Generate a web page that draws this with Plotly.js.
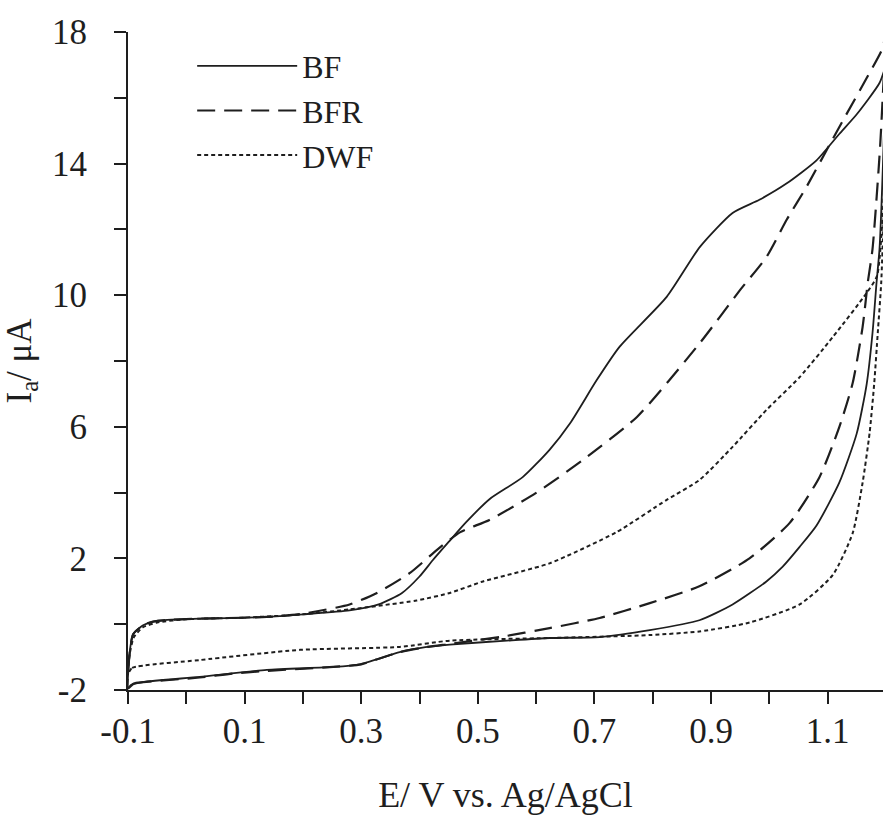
<!DOCTYPE html>
<html>
<head>
<meta charset="utf-8">
<script src="https://cdn.plot.ly/plotly-3.0.1.min.js"></script>
<style>html,body{margin:0;padding:0;background:#fff;}#chart{width:883px;height:817px;}</style>
</head>
<body>
<div id="chart"></div>
<script>
// Potential (V vs Ag/AgCl) and current (µA), each loop: forward (lower) branch then reverse (upper) branch
const bfE = [-0.1,-0.095,-0.074,0.023,0.138,0.252,0.298,0.33,0.366,0.41,0.452,0.55,0.623,0.709,0.795,0.88,0.937,0.995,1.023,1.052,1.081,1.12,1.15,1.167,1.177,1.184,1.189,1.195,1.2,
             1.2,1.189,1.15,1.12,1.081,1.03,0.983,0.937,0.881,0.824,0.743,0.704,0.658,0.623,0.577,0.52,0.48,0.45,0.423,0.4,0.37,0.33,0.28,0.2,0.138,0.05,-0.033,-0.057,-0.074,-0.091,-0.096,-0.1];
const bfI = [-1.95,-1.85,-1.76,-1.6,-1.39,-1.3,-1.22,-1.05,-0.85,-0.7,-0.62,-0.5,-0.42,-0.39,-0.18,0.12,0.6,1.3,1.75,2.35,3.0,4.3,5.8,7.3,8.85,10.4,11.4,14.0,17.0,
             17.0,16.45,15.5,14.9,14.1,13.4,12.9,12.5,11.47,9.95,8.43,7.42,6.1,5.3,4.47,3.8,3.1,2.5,1.95,1.45,0.95,0.6,0.42,0.3,0.22,0.18,0.13,0.08,-0.03,-0.3,-0.7,-1.95];

const bfrE = [-0.1,-0.09,-0.074,0.023,0.08,0.138,0.252,0.3,0.33,0.366,0.41,0.452,0.538,0.623,0.709,0.795,0.88,0.966,1.035,1.086,1.12,1.143,1.16,1.169,1.177,1.19,1.2,
              1.2,1.194,1.167,1.126,1.098,1.064,1.03,0.995,0.95,0.881,0.773,0.68,0.6,0.52,0.47,0.43,0.383,0.327,0.28,0.2,0.138,0.05,-0.033,-0.057,-0.074,-0.091,-0.096,-0.1];
const bfrI = [-1.95,-1.8,-1.76,-1.62,-1.5,-1.42,-1.3,-1.22,-1.05,-0.85,-0.7,-0.6,-0.39,-0.12,0.19,0.64,1.15,2.0,3.08,4.47,5.99,7.33,9.03,10.4,11.4,14.5,18.0,
              18.0,17.5,16.6,15.3,14.4,13.3,12.3,11.16,10.16,8.55,6.3,4.99,3.99,3.17,2.8,2.26,1.55,0.95,0.6,0.32,0.22,0.18,0.13,0.08,-0.03,-0.3,-0.7,-1.95];

const dwfE = [-0.1,-0.093,0.023,0.195,0.366,0.452,0.623,0.795,0.88,0.966,1.052,1.109,1.143,1.16,1.172,1.18,1.186,1.192,1.2,
              1.2,1.185,1.167,1.109,1.052,0.995,0.937,0.88,0.824,0.738,0.623,0.509,0.452,0.395,0.28,0.2,0.1,0,-0.05,-0.075,-0.09,-0.097,-0.1];
const dwfI = [-1.5,-1.33,-1.09,-0.78,-0.69,-0.5,-0.42,-0.33,-0.22,0.05,0.6,1.5,2.77,4.3,5.81,7.33,8.85,10.4,14.5,
              14.5,10.6,10.07,8.73,7.51,6.51,5.39,4.38,3.78,2.8,1.85,1.3,0.95,0.72,0.45,0.3,0.2,0.15,0.05,-0.1,-0.4,-0.9,-1.5];

const seriesNames = ['BF','BFR','DWF'];
const xTickVals = [-0.1,0.1,0.3,0.5,0.7,0.9,1.1];
const xTickText = ['-0.1','0.1','0.3','0.5','0.7','0.9','1.1'];
const xMinorVals = [0,0.2,0.4,0.6,0.8,1.0];
const yTickVals = [-2,2,6,10,14,18];
const yTickText = ['-2','2','6','10','14','18'];
const yMinorVals = [0,4,8,12,16];

const ink = '#1e1e1e';
const serif = 'Liberation Serif, Times New Roman, serif';

const traces = [
  {x: bfE, y: bfI, name: seriesNames[0], mode: 'lines', line: {color: ink, width: 1.8, dash: 'solid', shape: 'spline', smoothing: 0.6}},
  {x: bfrE, y: bfrI, name: seriesNames[1], mode: 'lines', line: {color: ink, width: 2.2, dash: '18px,9px', shape: 'spline', smoothing: 0.6}},
  {x: dwfE, y: dwfI, name: seriesNames[2], mode: 'lines', line: {color: ink, width: 2, dash: '4px,3px', shape: 'spline', smoothing: 0.6}}
];

const layout = {
  width: 883, height: 817,
  margin: {l: 128, r: 0, t: 32, b: 127},
  paper_bgcolor: '#fff', plot_bgcolor: '#fff',
  font: {family: serif, size: 35, color: ink},
  showlegend: true,
  legend: {x: 0.085, y: 0.99, xanchor: 'left', yanchor: 'top', bgcolor: 'rgba(0,0,0,0)',
           font: {family: serif, size: 32, color: ink}, itemwidth: 100, tracegroupgap: 0},
  xaxis: {
    range: [-0.1, 1.195], showgrid: false, zeroline: false,
    showline: true, linecolor: ink, linewidth: 2,
    ticks: 'outside', ticklen: 12, tickwidth: 2, tickcolor: ink,
    tickmode: 'array', tickvals: xTickVals, ticktext: xTickText, ticklabelstandoff: -3,
    minor: {tickmode: 'array', tickvals: xMinorVals, ticks: 'outside', ticklen: 12, tickwidth: 2, tickcolor: ink, showgrid: false},
    tickfont: {family: serif, size: 35, color: ink},
    title: {text: 'E/ V vs. Ag/AgCl', font: {family: serif, size: 36, color: ink}, standoff: 32}
  },
  yaxis: {
    range: [-2, 18], showgrid: false, zeroline: false,
    showline: true, linecolor: ink, linewidth: 2,
    ticks: 'outside', ticklen: 12, tickwidth: 2, tickcolor: ink,
    tickmode: 'array', tickvals: yTickVals, ticktext: yTickText, ticklabelstandoff: 20,
    minor: {tickmode: 'array', tickvals: yMinorVals, ticks: 'outside', ticklen: 12, tickwidth: 2, tickcolor: ink, showgrid: false},
    tickfont: {family: serif, size: 35, color: ink},
    title: {text: 'I<sub>a</sub>/ μA', font: {family: serif, size: 35, color: ink}, standoff: 12}
  }
};

Plotly.newPlot('chart', traces, layout, {displayModeBar: false, staticPlot: true});
</script>
</body>
</html>
